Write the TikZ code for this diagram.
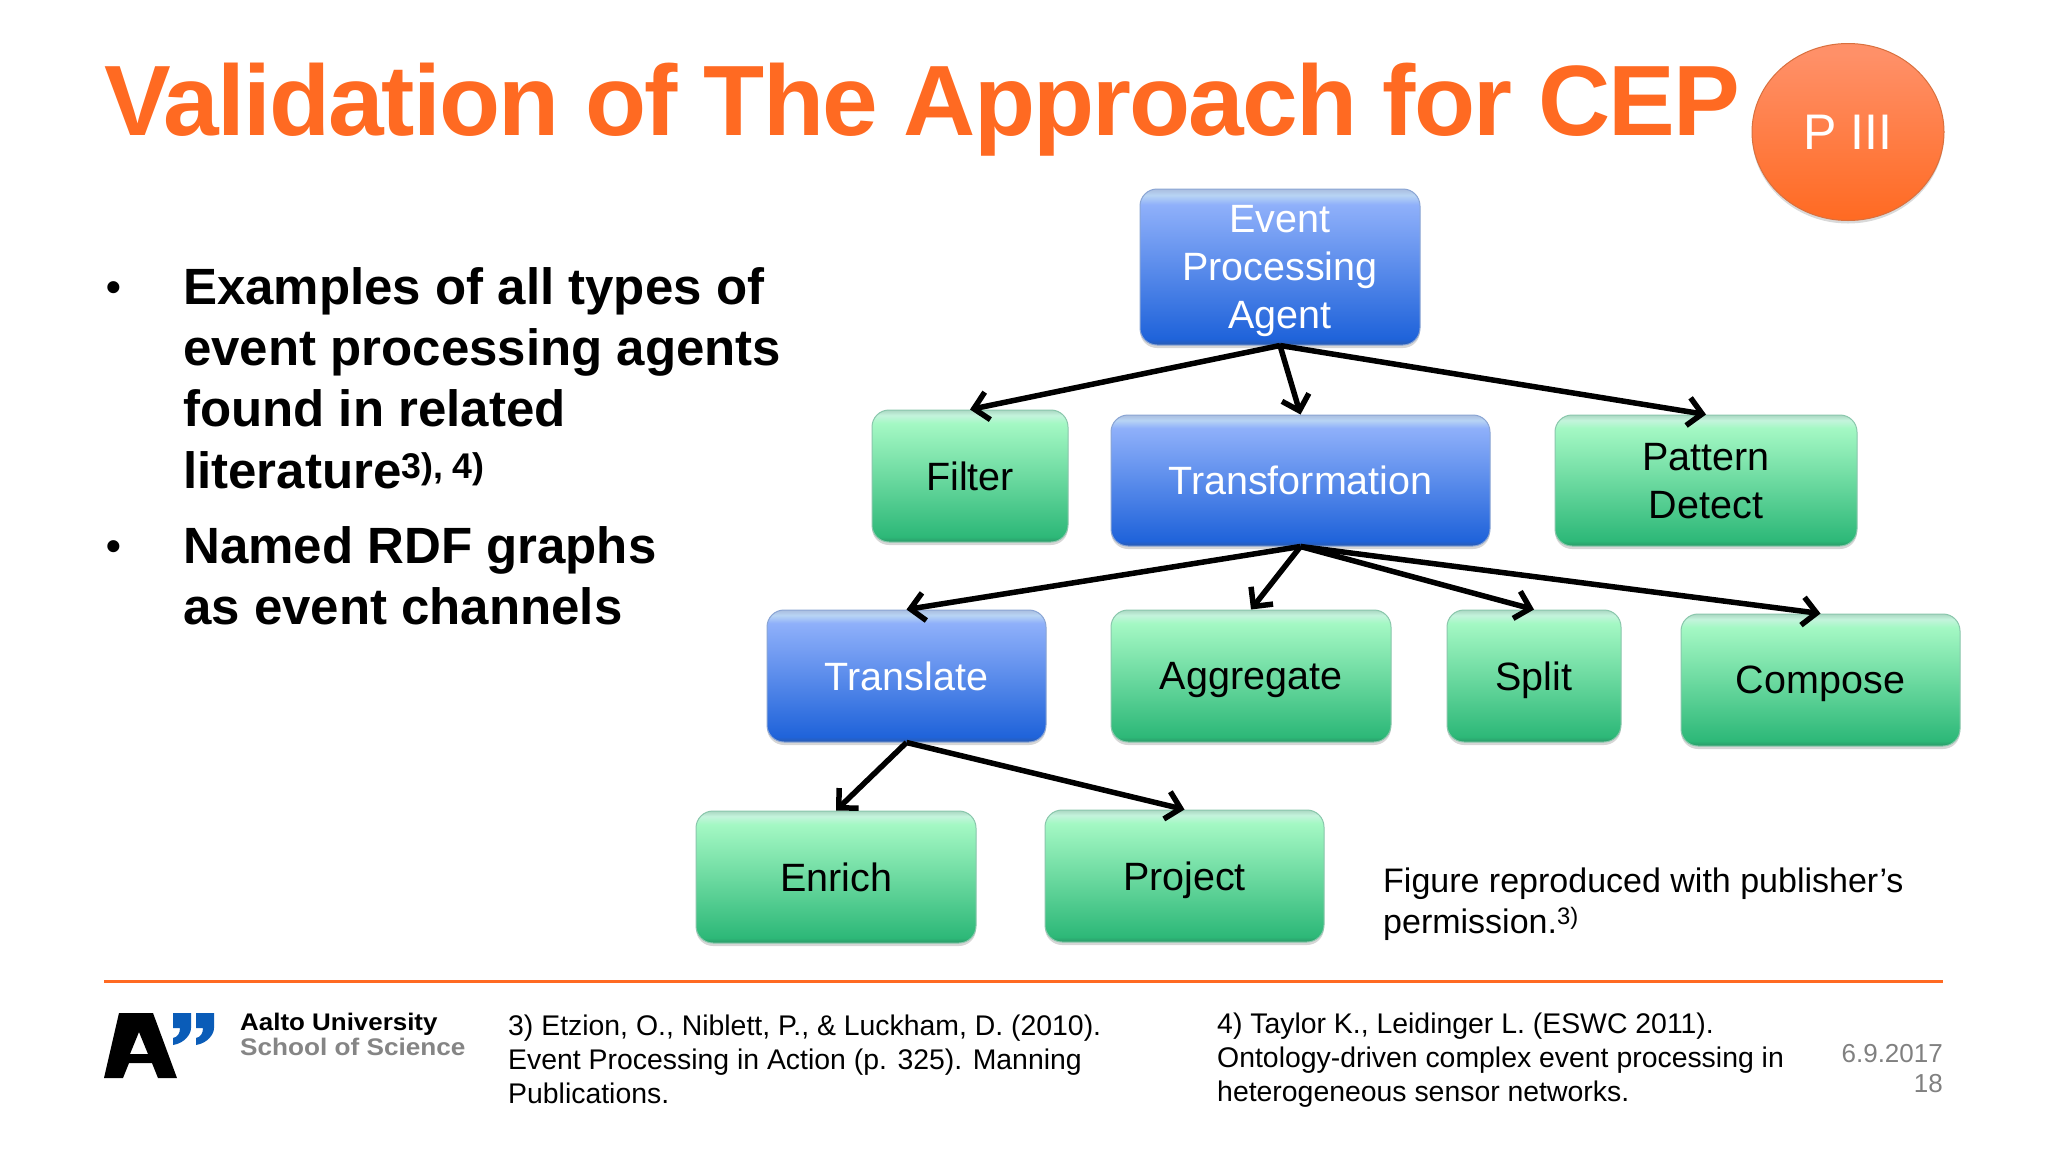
\documentclass[tikz,border=0pt]{standalone}
\usepackage{fontspec}
\setmainfont{Liberation Sans}
\newfontfamily\titlefont[LetterSpace=-1.9]{Liberation Sans Bold}
\usepackage{tikz}
\usetikzlibrary{arrows.meta,shadows,shapes.geometric}

\definecolor{titleorange}{HTML}{FF6A22}
\definecolor{linkblue}{HTML}{0A5CB8}
\definecolor{bluetop}{HTML}{8FB0FA}
\definecolor{bluelow}{HTML}{1F63DA}
\definecolor{blueedge}{HTML}{2A5BB0}
\definecolor{blueshine}{HTML}{B8D4F4}
\definecolor{greentop}{HTML}{A4F8C4}
\definecolor{greenlow}{HTML}{2DB878}
\definecolor{greenedge}{HTML}{2A9A68}
\definecolor{greenshine}{HTML}{C4F4DC}
\definecolor{badgetop}{HTML}{FF9068}
\pgfdeclareverticalshading{blueshade}{100bp}{color(0bp)=(blueedge); color(25bp)=(blueedge); color(27bp)=(bluelow); color(70bp)=(bluetop); color(73bp)=(blueshine); color(75bp)=(blueedge!40!white); color(100bp)=(blueedge!40!white)}
\pgfdeclareverticalshading{greenshade}{100bp}{color(0bp)=(greenedge); color(25bp)=(greenedge); color(27bp)=(greenlow); color(70bp)=(greentop); color(73bp)=(greenshine); color(75bp)=(greenedge!40!white); color(100bp)=(greenedge!40!white)}
\pgfdeclareverticalshading{badgeshade}{100bp}{color(0bp)=(titleorange); color(25bp)=(titleorange); color(72bp)=(badgetop); color(100bp)=(badgetop)}

\tikzset{
    box/.style={rectangle, rounded corners=17pt, inner sep=0pt, align=center, text depth=0pt, font=\fontsize{39.5}{48}\selectfont,
        drop shadow={shadow xshift=0pt, shadow yshift=-3pt, opacity=0.16, fill=black}},
    bluebox/.style={box, shading=blueshade, draw=blueedge!55, line width=1pt, text=white},
    greenbox/.style={box, shading=greenshade, draw=greenedge!55, line width=1pt, text=black},
    treearrow/.style={-{Straight Barb[length=14pt,width=28pt,line width=5.5pt]}, line width=5.5pt, black},
    bulletdot/.style={anchor=center, inner sep=0pt, font=\fontsize{42}{42}\selectfont\bfseries},
    bullettext/.style={anchor=west, align=left, inner sep=0pt, font=\fontsize{51}{61.4}\selectfont\bfseries},
    reftext/.style={anchor=west, align=left, inner sep=0pt, font=\fontsize{28.4}{34}\selectfont},
}

\begin{document}
\begin{tikzpicture}[x=1pt, y=-1pt]
    \useasboundingbox[fill=white] (0,0) rectangle (2048,1152);

    \node[anchor=base west, inner sep=0pt, text=titleorange, font=\fontsize{100}{100}\selectfont\titlefont] (title) at (104,135) {Validation of The Approach for CEP};
    \node[ellipse, minimum width=192, minimum height=177, inner sep=0pt, draw=titleorange!70!gray, line width=1pt, shading=badgeshade, text=white, font=\fontsize{50}{50}\selectfont,
        drop shadow={shadow xshift=0pt, shadow yshift=-3pt, opacity=0.15, fill=black}] (badge) at (1848,132) {P III};

    \node[bulletdot] (dotone) at (114,292) {•};
    \node[bullettext] (pointone) at (183,378) {Examples of all types of\\event processing agents\\found in related\\literature\textsuperscript{3), 4)}};
    \node[bulletdot] (dottwo) at (114,551) {•};
    \node[bullettext] (pointtwo) at (183,576) {Named RDF graphs\\as event channels};

    \node[bluebox, minimum width=280, minimum height=156] (agent) at (1280,267) {Event\\Processing\\Agent};
    \node[greenbox, minimum width=196, minimum height=132] (filter) at (970,476) {Filter};
    \node[bluebox, minimum width=379, minimum height=131] (transformation) at (1300.5,480.5) {Transformation};
    \node[greenbox, minimum width=302, minimum height=131] (pattern) at (1706,480.5) {Pattern\\Detect};
    \node[bluebox, minimum width=279, minimum height=132] (translate) at (906.5,676) {Translate};
    \node[greenbox, minimum width=280, minimum height=132] (aggregate) at (1251,676) {Aggregate};
    \node[greenbox, minimum width=174, minimum height=132] (split) at (1534,676) {Split};
    \node[greenbox, minimum width=279, minimum height=132] (compose) at (1820.5,680) {Compose};
    \node[greenbox, minimum width=280, minimum height=132] (enrich) at (836,877) {Enrich};
    \node[greenbox, minimum width=279, minimum height=132] (project) at (1184.5,876) {Project};

    \draw[treearrow] (agent.south) -- (filter.north);
    \draw[treearrow] (agent.south) -- (transformation.north);
    \draw[treearrow] (agent.south) -- (pattern.north);
    \draw[treearrow] (transformation.south) -- (translate.north);
    \draw[treearrow] (transformation.south) -- (aggregate.north);
    \draw[treearrow] (transformation.south) -- (split.north);
    \draw[treearrow] (transformation.south) -- (compose.north);
    \draw[treearrow] (translate.south) -- (enrich.north);
    \draw[treearrow] (translate.south) -- (project.north);

    \node[anchor=west, align=left, inner sep=0pt, font=\fontsize{34}{40.5}\selectfont] (permission) at (1383,904) {Figure reproduced with publisher’s\\permission.\textsuperscript{3)}};

    \draw[titleorange, line width=3pt] (104,981) -- (1943,981);

    \fill[black, even odd rule] (119,1013) -- (153,1013) -- (177,1078) -- (158,1078) -- (152,1063) -- (129,1063) -- (123,1078) -- (104,1078) -- cycle
        (139,1032) -- (130,1054) -- (148,1054) -- cycle;
    \fill[linkblue] (173,1013) -- (191,1013) -- (191,1028) .. controls (191,1034) and (185,1043) .. (173,1045) -- (173,1038) .. controls (178,1037) and (180,1033) .. (180,1028) -- (173,1028) -- cycle;
    \fill[linkblue] (196,1013) -- (214,1013) -- (214,1028) .. controls (214,1034) and (208,1043) .. (196,1045) -- (196,1038) .. controls (201,1037) and (203,1033) .. (203,1028) -- (196,1028) -- cycle;
    \node[anchor=west, inner sep=0pt, xscale=1.08, font=\fontsize{24}{24}\selectfont\bfseries] (aalto) at (240,1024) {Aalto University};
    \node[anchor=west, inner sep=0pt, xscale=1.09, text=black!48, font=\fontsize{24}{24}\selectfont\bfseries] (school) at (240,1047) {School of Science};

    \node[reftext] (refthree) at (508,1059) {3) Etzion, O., Niblett, P., \& Luckham, D. (2010).\\Event Processing in Action (p. 325). Manning\\Publications.};
    \node[reftext] (reffour) at (1217,1060) {4) Taylor K., Leidinger L. (ESWC 2011).\\Ontology-driven complex event processing in\\heterogeneous sensor networks.};
    \node[anchor=east, align=right, inner sep=0pt, text=black!50, font=\fontsize{26}{30}\selectfont] (date) at (1943,1069) {6.9.2017\\18};
\end{tikzpicture}
\end{document}
